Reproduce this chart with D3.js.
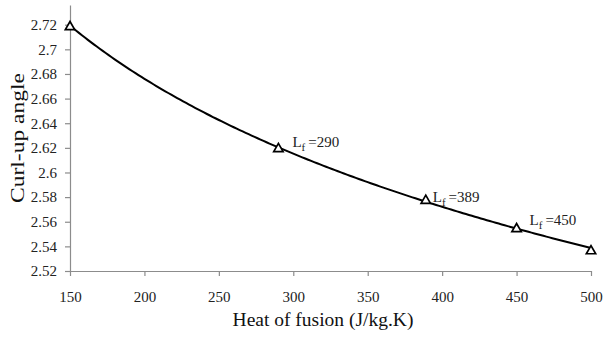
<!DOCTYPE html>
<html>
<head>
<meta charset="utf-8">
<script src="https://cdn.jsdelivr.net/npm/d3@7"></script>
<style>
  body { margin: 0; background: #fff; }
  text { font-family: "Liberation Serif", "Times New Roman", serif; }
</style>
</head>
<body>
<div id="chart"></div>
<script>
// data
let heatOfFusion = [150, 290, 389, 450, 500];
let curlUpAngle = [2.719, 2.620, 2.578, 2.555, 2.537];
let xTicks = [150, 200, 250, 300, 350, 400, 450, 500];
let yTicks = [2.52, 2.54, 2.56, 2.58, 2.6, 2.62, 2.64, 2.66, 2.68, 2.7, 2.72];
let labelValues = [290, 389, 450];
// label offsets from their point (px)
let labelOffsets = {290: [14, -1], 389: [7, 2], 450: [13, -3]};

let width = 604, height = 338;

let svg = d3.select("#chart")
    .append("svg")
    .attr("width", width)
    .attr("height", height);

let x = d3.scaleLinear()
    .domain([150, 500])
    .range([70, 591]);

let y = d3.scaleLinear()
    .domain([2.52, 2.736])
    .range([271, 5]);

let xAxis = svg.append("g")
    .attr("transform", "translate(0,271)")
    .call(d3.axisBottom(x).tickValues(xTicks).tickSize(5).tickSizeOuter(0).tickPadding(15));

let yAxis = svg.append("g")
    .attr("transform", "translate(70,0)")
    .call(d3.axisLeft(y).tickValues(yTicks).tickFormat(d3.format("")).tickSize(5).tickSizeOuter(0).tickPadding(8));

[xAxis, yAxis].forEach(function (g) {
    g.attr("font-family", null);
    g.selectAll("path, line").attr("stroke", "#8c8c8c").attr("stroke-width", 1.2);
    g.selectAll("text").attr("fill", "#222").style("font-size", "15px");
});

// axis titles
svg.append("text")
    .attr("x", 323)
    .attr("y", 326)
    .attr("text-anchor", "middle")
    .style("font-size", "19.5px")
    .attr("fill", "#111")
    .text("Heat of fusion (J/kg.K)");

svg.append("text")
    .attr("transform", "translate(24,138) rotate(-90)")
    .attr("text-anchor", "middle")
    .attr("textLength", 130)
    .attr("lengthAdjust", "spacingAndGlyphs")
    .style("font-size", "18.5px")
    .attr("fill", "#111")
    .text("Curl-up angle");

let points = heatOfFusion.map(function (h, i) {
    return {x: h, y: curlUpAngle[i]};
});

// logarithmic trendline (least squares on ln x), like the spreadsheet one
let lx = heatOfFusion.map(Math.log);
let mx = d3.mean(lx), my = d3.mean(curlUpAngle);
let b = d3.sum(lx, function (v, i) { return (v - mx) * (curlUpAngle[i] - my); }) /
        d3.sum(lx, function (v) { return (v - mx) * (v - mx); });
let a = my - b * mx;
let trend = x.ticks(120).map(function (h) {
    return {x: h, y: a + b * Math.log(h)};
});

let line = d3.line()
    .x(function (d) { return x(d.x); })
    .y(function (d) { return y(d.y); });

svg.append("path")
    .datum(trend)
    .attr("d", line)
    .attr("fill", "none")
    .attr("stroke", "#000")
    .attr("stroke-width", 2);

let tri = d3.symbol().type(d3.symbolTriangle).size(38);

svg.selectAll(".marker")
    .data(points)
    .enter()
    .append("path")
    .attr("class", "marker")
    .attr("d", tri)
    .attr("transform", function (d) {
        return "translate(" + x(d.x) + "," + (y(d.y) + 1) + ")";
    })
    .attr("fill", "#fff")
    .attr("stroke", "#000")
    .attr("stroke-width", 1.7);

// L_f labels
let labels = svg.selectAll(".lbl")
    .data(points.filter(function (d) { return labelValues.indexOf(d.x) >= 0; }))
    .enter()
    .append("text")
    .attr("class", "lbl")
    .attr("x", function (d) { return x(d.x) + labelOffsets[d.x][0]; })
    .attr("y", function (d) { return y(d.y) + labelOffsets[d.x][1]; })
    .style("font-size", "15px")
    .attr("fill", "#222");

labels.append("tspan").text("L");
labels.append("tspan")
    .attr("dy", 4)
    .style("font-size", "11px")
    .text("f");
labels.append("tspan")
    .attr("dy", -4)
    .attr("dx", 3)
    .text(function (d) { return "=" + d.x; });
</script>
</body>
</html>
